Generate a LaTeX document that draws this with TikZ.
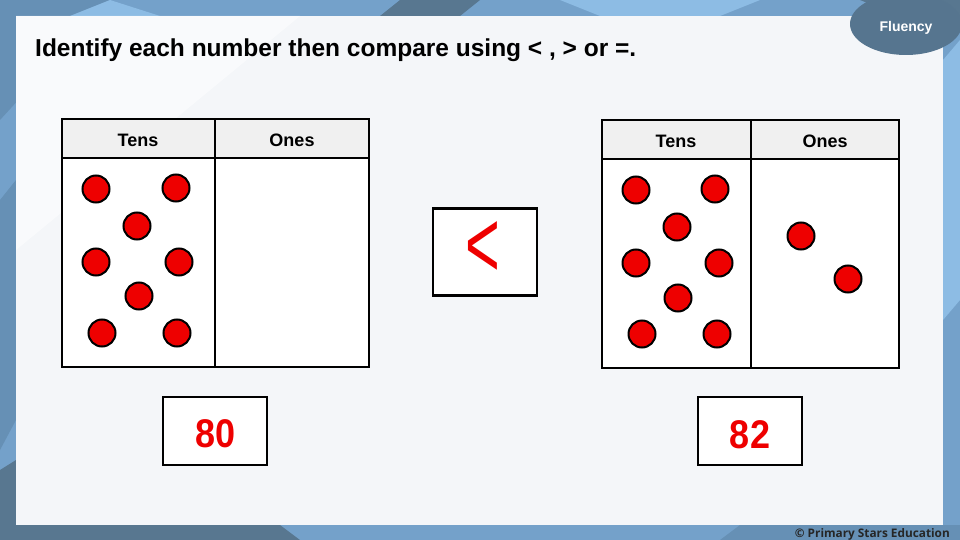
\documentclass[tikz,border=0pt]{standalone}
\usepackage{fontspec}
\setmainfont{Liberation Sans}
\newfontfamily\footfont{Open Sans}
\usetikzlibrary{shapes.geometric}
\definecolor{bgblue}{HTML}{74A1CA}
\definecolor{bgdark}{HTML}{587790}
\definecolor{bglight}{HTML}{8DBCE4}
\definecolor{bgmid}{HTML}{6690B5}
\definecolor{panelc}{HTML}{F4F6F9}
\definecolor{badge}{HTML}{56758F}
\definecolor{headc}{HTML}{F0F0F0}
\definecolor{dotred}{HTML}{EE0000}
\tikzset{
  tbl/.style={draw=black, line width=2.4pt},
  hdr/.style={font=\bfseries\fontsize{18}{18}\selectfont, anchor=center},
  counter/.style={circle, fill=dotred, draw=black, line width=2pt, minimum size=27pt, inner sep=0pt},
  numbox/.style={draw=black, line width=2.2pt, fill=white, minimum width=104pt, minimum height=68pt, inner sep=0pt},
  numtxt/.style={text=dotred, font=\bfseries\fontsize{40}{40}\selectfont, xscale=0.9}
}
\begin{document}
\begin{tikzpicture}[x=1pt,y=-1pt]
\useasboundingbox (0,0) rectangle (960,540);
% background
\fill[bgblue] (0,0) rectangle (960,540);
\fill[bgmid] (0,0) -- (110,0) -- (0,120) -- cycle;
\fill[bglight] (70,16) -- (110,0) -- (160,16) -- cycle;
\fill[bgdark] (400,0) -- (480,0) -- (460,16) -- (380,16) -- cycle;
\fill[bglight] (560,0) -- (760,0) -- (720,16) -- (600,16) -- cycle;
\fill[bgdark] (860,0) -- (960,0) -- (960,16) -- (900,16) -- cycle;
\fill[bglight] (943,60) -- (960,40) -- (960,300) -- (943,320) -- cycle;
\fill[bgmid] (0,200) -- (16,180) -- (16,420) -- (0,450) -- cycle;
\fill[bgdark] (0,470) -- (16,460) -- (16,525) -- (280,525) -- (300,540) -- (0,540) -- cycle;
\fill[bgmid] (740,525) -- (960,525) -- (960,540) -- (720,540) -- cycle;
% panel
\fill[panelc] (16,16) rectangle (943,525);
\fill[white,opacity=0.5] (16,16) -- (300,16) -- (16,250) -- cycle;
% badge
\node[ellipse, fill=badge, minimum width=112pt, minimum height=62pt, inner sep=0pt] (badge) at (906,24) {};
\node[text=white, font=\bfseries\fontsize{14}{14}\selectfont] (badgetxt) at (906,28) {Fluency};
% title
\node[anchor=west, font=\bfseries\fontsize{24.5}{24.5}\selectfont, inner sep=0pt] (title) at (35,50) {Identify each number then compare using < , > or =.};
% left table
\fill[headc] (62,119) rectangle (369,158);
\fill[white] (62,158) rectangle (369,367);
\draw[tbl] (62,119) rectangle (369,367);
\draw[tbl] (62,158) -- (369,158);
\draw[tbl] (215,119) -- (215,367);
\node[hdr] (lt) at (138,140) {Tens};
\node[hdr] (lo) at (292,140) {Ones};
\foreach \n/\x/\y in {a/96/189, b/176/188, c/137/226, d/96/262, e/179/262, f/139/296, g/102/333, h/177/333}
  \node[counter] (L\n) at (\x,\y) {};
% right table
\fill[headc] (602,120) rectangle (899,159);
\fill[white] (602,159) rectangle (899,368);
\draw[tbl] (602,120) rectangle (899,368);
\draw[tbl] (602,159) -- (899,159);
\draw[tbl] (751,120) -- (751,368);
\node[hdr] (rt) at (676,141) {Tens};
\node[hdr] (ro) at (825,141) {Ones};
\foreach \n/\x/\y in {a/636/190, b/715/189, c/677/227, d/636/263, e/719/263, f/678/298, g/642/334, h/717/334, i/801/236, j/848/279}
  \node[counter] (R\n) at (\x,\y) {};
% comparison box
\node[draw=black, line width=2.4pt, fill=white, minimum width=104pt, minimum height=87pt, inner sep=0pt] (cmpbox) at (485,252) {};
\node[text=dotred, font=\fontsize{96}{96}\selectfont, xscale=0.62] (cmp) at (483,250) {<};
% number boxes
\node[numbox] (n80) at (215,431) {};
\node[numtxt] (t80) at (216,434) {80};
\node[numbox] (n82) at (750,431) {};
\node[numtxt] (t82) at (750,435) {82};
% footer
\node[anchor=east, text=black!85, font=\footfont\bfseries\fontsize{11.8}{11.8}\selectfont, inner sep=0pt] (foot) at (950,534) {© Primary Stars Education};
\end{tikzpicture}
\end{document}
